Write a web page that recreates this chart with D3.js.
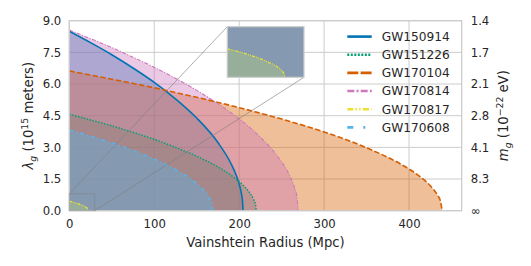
<!DOCTYPE html>
<html>
<head>
<meta charset="utf-8">
<script src="https://cdn.jsdelivr.net/npm/d3@7"></script>
<style>
body { margin: 0; background: #fff; }
svg text { font-family: "DejaVu Sans", sans-serif; fill: #262626; }
</style>
</head>
<body>
<div class="content"></div>
<script>
// values (Vainshtein radius in Mpc, lambda_g in 1e15 m)
const events = ['GW150914', 'GW151226', 'GW170104', 'GW170814', 'GW170817', 'GW170608'];

const r150914 = [0, 25, 50, 75, 100, 125, 150, 175, 190, 197, 200, 202, 203, 204, 204.5];
const lam150914 = [8.5, 7.96, 7.39, 6.76, 6.08, 5.3, 4.39, 3.23, 2.26, 1.63, 1.26, 0.94, 0.73, 0.42, 0];

const r151226 = [0, 25, 50, 75, 100, 125, 150, 175, 195, 205, 212, 217, 219.5, 220];
const lam151226 = [4.57, 4.3, 4.02, 3.71, 3.38, 3.0, 2.58, 2.07, 1.54, 1.19, 0.87, 0.53, 0.22, 0];

const r170104 = [0, 50, 100, 150, 200, 250, 300, 350, 390, 410, 425, 433, 437, 439];
const lam170104 = [6.62, 6.23, 5.82, 5.37, 4.88, 4.34, 3.73, 2.98, 2.21, 1.7, 1.18, 0.77, 0.45, 0];

const r170814 = [0, 25, 50, 75, 100, 125, 150, 175, 200, 225, 245, 258, 265, 268, 269.5];
const lam170814 = [8.56, 8.15, 7.73, 7.27, 6.79, 6.27, 5.7, 5.07, 4.35, 3.48, 2.58, 1.77, 1.11, 0.64, 0];

const r170817 = [0, 4, 8, 12, 16, 19, 21, 22, 22.6];
const lam170817 = [0.45, 0.41, 0.36, 0.31, 0.24, 0.18, 0.12, 0.07, 0];

const r170608 = [0, 25, 50, 75, 100, 125, 145, 158, 165, 168, 169];
const lam170608 = [3.82, 3.53, 3.21, 2.85, 2.44, 1.95, 1.44, 0.97, 0.59, 0.29, 0];

const xTicks = [0, 100, 200, 300, 400];
const lamTicks = [0, 1.5, 3, 4.5, 6, 7.5, 9];
const massLabels = ['\u221e', '8.3', '4.1', '2.8', '2.1', '1.7', '1.4'];

const xDomain = [0, 462];
const yDomain = [0, 9];
const insetX = [0, 30];
const insetY = [0, 0.8];

const w = 531;
const h = 266;
const pl = 69.3, pr = 461.7, pt = 20.7, pb = 210.7;

const colors = ['#0173b2', '#029e73', '#d55e00', '#cc78bc', '#ece133', '#56b4e9'];
const widths = [1.6, 1.5, 1.6, 1.1, 1.3, 1.6];
const dashes = [null, '1.5,1.5', '5.5,2.4', '4,1.5,1.2,1.5', '3,1.2,1,1.2,1,1.2', '4,3,1.2,3'];
const legendDashes = [null, '2,1.5', '11,2.3', '7,2.2,2,2.2', '6,2.2,1.5,2.2,1.5,2.2', '6,10,2,10'];

const series = [
	[r150914, lam150914], [r151226, lam151226], [r170104, lam170104],
	[r170814, lam170814], [r170817, lam170817], [r170608, lam170608]
].map((s, i) => ({ name: events[i], pts: s[0].map((r, j) => [r, s[1][j]]) }));

const svg = d3.select('.content').append('svg')
	.attr('width', w)
	.attr('height', h);

const x = d3.scaleLinear().domain(xDomain).range([pl, pr]);
const y = d3.scaleLinear().domain(yDomain).range([pb, pt]);

// grid
svg.append('g')
	.selectAll('line.gx')
	.data(xTicks)
	.enter().append('line')
	.attr('x1', (d) => x(d)).attr('x2', (d) => x(d))
	.attr('y1', pt).attr('y2', pb)
	.attr('stroke', '#cccccc').attr('stroke-width', 1);
svg.append('g')
	.selectAll('line.gy')
	.data(lamTicks)
	.enter().append('line')
	.attr('x1', pl).attr('x2', pr)
	.attr('y1', (d) => y(d)).attr('y2', (d) => y(d))
	.attr('stroke', '#cccccc').attr('stroke-width', 1);

function drawSeries(g, xs, ys) {
	const area = d3.area()
		.x((d) => xs(d[0]))
		.y0(ys(0))
		.y1((d) => ys(d[1]))
		.curve(d3.curveMonotoneX);
	const line = d3.line()
		.x((d) => xs(d[0]))
		.y((d) => ys(d[1]))
		.curve(d3.curveMonotoneX);
	series.forEach((s, i) => {
		g.append('path')
			.attr('d', area(s.pts))
			.attr('fill', colors[i])
			.attr('fill-opacity', 0.4);
	});
	series.forEach((s, i) => {
		g.append('path')
			.attr('d', line(s.pts))
			.attr('fill', 'none')
			.attr('stroke', colors[i])
			.attr('stroke-width', widths[i])
			.attr('stroke-dasharray', dashes[i]);
	});
}

svg.append('clipPath').attr('id', 'mainclip')
	.append('rect').attr('x', pl).attr('y', pt).attr('width', pr - pl).attr('height', pb - pt);

drawSeries(svg.append('g').attr('clip-path', 'url(#mainclip)'), x, y);

// frame
svg.append('rect')
	.attr('x', pl).attr('y', pt)
	.attr('width', pr - pl).attr('height', pb - pt)
	.attr('fill', 'none')
	.attr('stroke', '#cccccc')
	.attr('stroke-width', 1.25);

// axes
const xAxis = svg.append('g')
	.attr('transform', 'translate(0,' + pb + ')')
	.call(d3.axisBottom(x).tickValues(xTicks).tickSize(0).tickPadding(9));
const yAxis = svg.append('g')
	.attr('transform', 'translate(' + pl + ',0)')
	.call(d3.axisLeft(y).tickValues(lamTicks).tickSize(0).tickPadding(8).tickFormat(d3.format('.1f')));
const y2Axis = svg.append('g')
	.attr('transform', 'translate(' + pr + ',0)')
	.call(d3.axisRight(y).tickValues(lamTicks).tickSize(0).tickPadding(9)
		.tickFormat((d, i) => massLabels[i]));
[xAxis, yAxis, y2Axis].forEach((a) => {
	a.select('.domain').remove();
	a.selectAll('text').style('font-size', '11.7px').attr('fill', '#262626');
});

svg.append('text')
	.attr('x', (pl + pr) / 2)
	.attr('y', 246.5)
	.attr('text-anchor', 'middle')
	.style('font-size', '13.2px')
	.text('Vainshtein Radius (Mpc)');

const yl = svg.append('text')
	.attr('transform', 'translate(33,' + ((pt + pb) / 2) + ') rotate(-90)')
	.attr('text-anchor', 'middle')
	.style('font-size', '13.2px');
yl.append('tspan').attr('font-style', 'italic').text('\u03bb');
yl.append('tspan').attr('font-style', 'italic').attr('font-size', '9.3px').attr('dy', 3).text('g');
yl.append('tspan').attr('dy', -3).text(' (10');
yl.append('tspan').attr('font-size', '9.3px').attr('dy', -5).text('15');
yl.append('tspan').attr('dy', 5).text(' meters)');

const yr = svg.append('text')
	.attr('transform', 'translate(508,' + ((pt + pb) / 2) + ') rotate(-90)')
	.attr('text-anchor', 'middle')
	.style('font-size', '13.2px');
yr.append('tspan').attr('font-style', 'italic').text('m');
yr.append('tspan').attr('font-style', 'italic').attr('font-size', '9.3px').attr('dy', 3).text('g');
yr.append('tspan').attr('dy', -3).text(' (10');
yr.append('tspan').attr('font-size', '9.3px').attr('dy', -5).text('\u221222');
yr.append('tspan').attr('dy', 5).text(' eV)');

// inset
const ix0 = 227.3, ix1 = 304, iy0 = 26.7, iy1 = 77.3;
const xi = d3.scaleLinear().domain(insetX).range([ix0, ix1]);
const yi = d3.scaleLinear().domain(insetY).range([iy1, iy0]);

// zoom box and connectors
svg.append('rect')
	.attr('x', x(insetX[0])).attr('y', y(insetY[1]))
	.attr('width', x(insetX[1]) - x(insetX[0]))
	.attr('height', y(insetY[0]) - y(insetY[1]))
	.attr('fill', 'none').attr('stroke', '#808080').attr('stroke-opacity', 0.6).attr('stroke-width', 0.8);
svg.append('line')
	.attr('x1', x(insetX[0])).attr('y1', y(insetY[1]))
	.attr('x2', ix0).attr('y2', iy0)
	.attr('stroke', '#808080').attr('stroke-opacity', 0.8).attr('stroke-width', 0.8);
svg.append('line')
	.attr('x1', x(insetX[1])).attr('y1', y(insetY[0]))
	.attr('x2', ix1).attr('y2', iy1)
	.attr('stroke', '#808080').attr('stroke-opacity', 0.8).attr('stroke-width', 0.8);

svg.append('clipPath').attr('id', 'insetclip')
	.append('rect').attr('x', ix0).attr('y', iy0).attr('width', ix1 - ix0).attr('height', iy1 - iy0);
const ig = svg.append('g').attr('clip-path', 'url(#insetclip)');
ig.append('rect').attr('x', ix0).attr('y', iy0).attr('width', ix1 - ix0).attr('height', iy1 - iy0).attr('fill', '#fff');
drawSeries(ig, xi, yi);
svg.append('rect')
	.attr('x', ix0).attr('y', iy0)
	.attr('width', ix1 - ix0).attr('height', iy1 - iy0)
	.attr('fill', 'none').attr('stroke', '#cccccc').attr('stroke-width', 1.25);

// legend
const legend = svg.append('g').attr('id', 'legend');
events.forEach((name, i) => {
	const ly = 36.6 + i * 18.15;
	legend.append('line')
		.attr('x1', 347.3).attr('x2', 371.7)
		.attr('y1', ly).attr('y2', ly)
		.attr('stroke', colors[i])
		.attr('stroke-width', 2.6)
		.attr('stroke-dasharray', legendDashes[i]);
	legend.append('text')
		.attr('x', 381.7).attr('y', ly)
		.attr('dy', '0.36em')
		.style('font-size', '12.2px')
		.text(name);
});
</script>
</body>
</html>
